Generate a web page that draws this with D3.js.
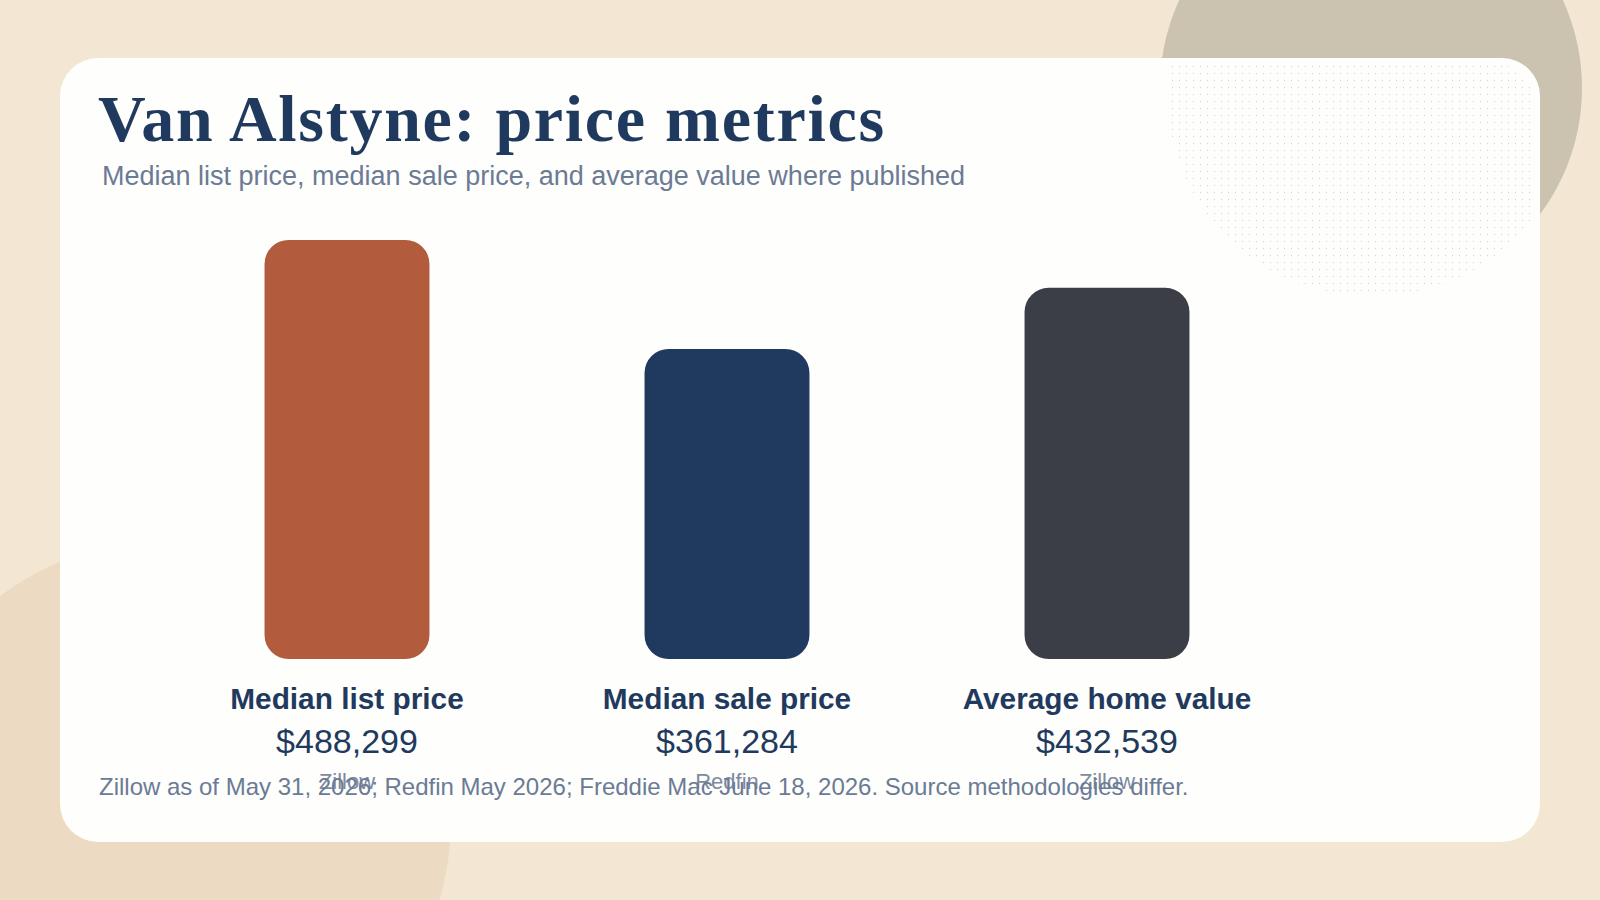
<!DOCTYPE html>
<html>
<head>
<meta charset="utf-8">
<script src="https://cdn.jsdelivr.net/npm/d3@7"></script>
<style>
  html, body { margin: 0; padding: 0; background: #f3e7d3; }
  svg { display: block; }
</style>
</head>
<body>
<svg width="1600" height="900"></svg>
<script>
// chart data
var categories = ["Median list price", "Median sale price", "Average home value"];
var values = [488299, 361284, 432539];
var sources = ["Zillow", "Redfin", "Zillow"];

var title = "Van Alstyne: price metrics";
var subtitle = "Median list price, median sale price, and average value where published";
var footnote = "Zillow as of May 31, 2026; Redfin May 2026; Freddie Mac June 18, 2026. Source methodologies differ.";

var palette = ["#b25b3d", "#1f3a5e", "#3b3e47"];

var svg = d3.select("svg"),
    width = +svg.attr("width"),
    height = +svg.attr("height");

var card = { x: 60, y: 58, w: 1480, h: 784, r: 38 };

// background
svg.append("rect").attr("width", width).attr("height", height).attr("fill", "#f3e7d3");
svg.append("circle").attr("cx", 1371).attr("cy", 88).attr("r", 211).attr("fill", "#cbc3b0");
svg.append("circle").attr("cx", 170).attr("cy", 820).attr("r", 281).attr("fill", "#ecdbc2");

var defs = svg.append("defs");
var pat = defs.append("pattern")
    .attr("id", "dots")
    .attr("patternUnits", "userSpaceOnUse")
    .attr("width", 7).attr("height", 7);
pat.append("circle").attr("cx", 3.5).attr("cy", 3.5).attr("r", 0.7).attr("fill", "#d2d8e0");

defs.append("clipPath").attr("id", "cardClip")
  .append("rect")
    .attr("x", card.x + 4).attr("y", card.y + 6)
    .attr("width", card.w - 10).attr("height", card.h - 12)
    .attr("rx", card.r);

// card
svg.append("rect")
    .attr("x", card.x).attr("y", card.y)
    .attr("width", card.w).attr("height", card.h)
    .attr("rx", card.r)
    .attr("fill", "#fefefc");

svg.append("circle")
    .attr("cx", 1372).attr("cy", 92).attr("r", 205)
    .attr("fill", "url(#dots)")
    .attr("clip-path", "url(#cardClip)");

// titles
svg.append("text")
    .attr("x", 98).attr("y", 141)
    .attr("font-family", "Georgia, 'Liberation Serif', serif")
    .attr("font-weight", "bold")
    .attr("font-size", 66)
    .attr("letter-spacing", 1.7)
    .attr("fill", "#1f3a5e")
    .text(title);

svg.append("text")
    .attr("x", 102).attr("y", 185)
    .attr("font-family", "Arial, 'Liberation Sans', sans-serif")
    .attr("font-size", 27)
    .attr("fill", "#6b7b95")
    .text(subtitle);

// scales
var x = d3.scaleBand()
    .domain(categories)
    .range([157, 1297])
    .paddingInner(0.566)
    .paddingOuter(0.283);

var y = d3.scaleLinear()
    .domain([0, d3.max(values)])
    .range([659, 240]);

var data = categories.map(function(c, i) {
    return { name: c, value: values[i], source: sources[i], color: palette[i] };
});

var fmt = d3.format("$,d");

var g = svg.selectAll(".bar").data(data).enter().append("g").attr("class", "bar");

g.append("rect")
    .attr("x", function(d) { return x(d.name); })
    .attr("y", function(d) { return y(d.value); })
    .attr("width", x.bandwidth())
    .attr("height", function(d) { return y(0) - y(d.value); })
    .attr("rx", 24)
    .attr("fill", function(d) { return d.color; });

g.append("text")
    .attr("x", function(d) { return x(d.name) + x.bandwidth() / 2; })
    .attr("y", 709)
    .attr("text-anchor", "middle")
    .attr("font-family", "Arial, 'Liberation Sans', sans-serif")
    .attr("font-weight", "bold")
    .attr("font-size", 29.8)
    .attr("fill", "#1f3a5e")
    .text(function(d) { return d.name; });

g.append("text")
    .attr("x", function(d) { return x(d.name) + x.bandwidth() / 2; })
    .attr("y", 753)
    .attr("text-anchor", "middle")
    .attr("font-family", "Arial, 'Liberation Sans', sans-serif")
    .attr("font-size", 34)
    .attr("fill", "#1f3a5e")
    .text(function(d) { return fmt(d.value); });

g.append("text")
    .attr("x", function(d) { return x(d.name) + x.bandwidth() / 2; })
    .attr("y", 789)
    .attr("text-anchor", "middle")
    .attr("font-family", "Arial, 'Liberation Sans', sans-serif")
    .attr("font-size", 22)
    .attr("fill", "#7f8aa0")
    .text(function(d) { return d.source; });

// footnote
svg.append("text")
    .attr("x", 99).attr("y", 795)
    .attr("font-family", "Arial, 'Liberation Sans', sans-serif")
    .attr("font-size", 24)
    .attr("fill", "#6b7b95")
    .text(footnote);
</script>
</body>
</html>
